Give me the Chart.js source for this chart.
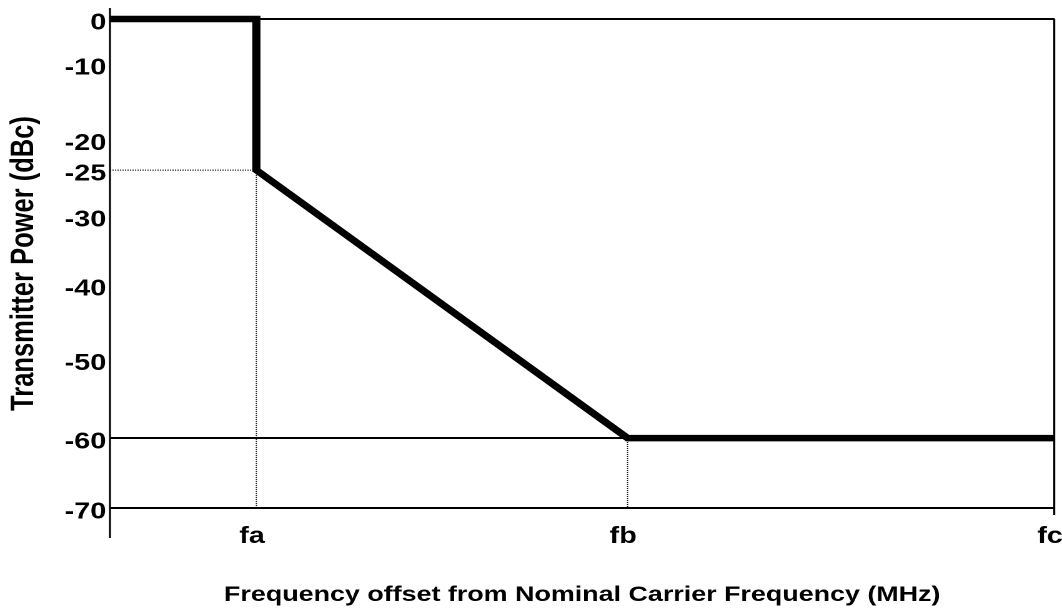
<!DOCTYPE html>
<html>
<head>
<meta charset="utf-8">
<script src="https://cdn.jsdelivr.net/npm/chart.js@4.4.1/dist/chart.umd.min.js"></script>
<style>
  html, body { margin: 0; padding: 0; background: #fff; }
  #mask { display: block; }
</style>
</head>
<body>
<!-- the original picture is stretched sideways, so the canvas is too -->
<canvas id="mask" width="850" height="610" style="width:1062px;height:610px"></canvas>
<script>
const freqLabels = ["fa", "fb", "fc"];
const freqPos = [1.55, 5.48, 10];
const maskFreq = [0, freqPos[0], freqPos[0], freqPos[1], freqPos[2]];
const maskDbc = [0, 0, -25, -60, -60];
const yTicks = [0, -10, -20, -25, -30, -40, -50, -60, -70];
const solidLevels = [0, -60, -70];

const floor = yTicks[yTicks.length - 1];

// y axis of the drawing is not evenly spaced, so map the ticks piecewise
class WarpScale extends Chart.LinearScale {
  _frac(value) {
    const v = this.options.levels, f = this.options.spacing;
    let i = 0;
    while (i < v.length - 2 && value < v[i + 1]) i++;
    return f[i] + (v[i] - value) / (v[i] - v[i + 1]) * (f[i + 1] - f[i]);
  }
  getPixelForValue(value) {
    return this.top + this._frac(value) * (this.bottom - this.top);
  }
  getValueForPixel(pixel) {
    const t = (pixel - this.top) / (this.bottom - this.top);
    const v = this.options.levels, f = this.options.spacing;
    let i = 0;
    while (i < f.length - 2 && t > f[i + 1]) i++;
    return v[i] - (t - f[i]) / (f[i + 1] - f[i]) * (v[i] - v[i + 1]);
  }
}
WarpScale.id = "warp";
Chart.register(WarpScale);

const font = (size) => ({ family: "'Liberation Sans', Arial, sans-serif", weight: "bold", size: size });

const toPoints = (xs, ys) => xs.map((x, i) => ({ x: x, y: ys[i] }));

// dotted guides drop from the two corners of the mask
const guideA = [
  { x: 0, y: maskDbc[2] },
  { x: maskFreq[2], y: maskDbc[2] },
  { x: maskFreq[2], y: floor },
];
const guideB = [
  { x: maskFreq[3], y: maskDbc[3] },
  { x: maskFreq[3], y: floor },
];

const axisLine = {
  id: "axisLine",
  afterDraw(chart) {
    const { ctx, chartArea } = chart;
    ctx.save();
    ctx.strokeStyle = "#000";
    ctx.lineWidth = 1.6;
    ctx.beginPath();
    ctx.moveTo(chartArea.left, chartArea.top - 11);
    ctx.lineTo(chartArea.left, chartArea.bottom + 30);
    ctx.stroke();
    ctx.restore();
  },
};

Chart.defaults.color = "#000";

new Chart(document.getElementById("mask"), {
  type: "line",
  data: {
    datasets: [
      {
        label: "Mask",
        data: toPoints(maskFreq, maskDbc),
        borderColor: "#000",
        borderWidth: 6.5,
        borderJoinStyle: "miter",
        borderCapStyle: "butt",
        pointRadius: 0,
        tension: 0,
        clip: false,
      },
      {
        label: "guide fa",
        data: guideA,
        borderColor: "#000",
        borderWidth: 1,
        borderDash: [1, 1],
        pointRadius: 0,
      },
      {
        label: "guide fb",
        data: guideB,
        borderColor: "#000",
        borderWidth: 1,
        borderDash: [1, 1],
        pointRadius: 0,
      },
    ],
  },
  options: {
    responsive: false,
    animation: false,
    devicePixelRatio: 2,
    layout: { padding: { top: 19, left: 0, right: 0, bottom: 0 } },
    plugins: {
      legend: { display: false },
      tooltip: { enabled: false },
    },
    scales: {
      x: {
        type: "linear",
        min: 0,
        max: freqPos[2],
        afterBuildTicks: (s) => { s.ticks = freqPos.map((v) => ({ value: v })); },
        afterFit: (s) => { s.height = 102; s.paddingLeft = 0; s.paddingRight = 6; },
        border: { display: false },
        grid: {
          color: (c) => (c.tick && c.tick.value === freqPos[2] ? "#000" : "rgba(0,0,0,0)"),
          lineWidth: 1.6,
          tickLength: 7,
        },
        ticks: {
          callback: (v, i) => freqLabels[i],
          font: font(23),
          padding: 8,
          labelOffset: -3.5,
          maxRotation: 0,
          autoSkip: false,
        },
        title: {
          display: true,
          text: "Frequency offset from Nominal Carrier Frequency (MHz)",
          font: font(21.5),
          padding: { top: 0, bottom: 2 },
        },
      },
      y: {
        type: "warp",
        min: floor,
        max: 0,
        levels: yTicks,
        spacing: [0, 0.092, 0.247, 0.309, 0.403, 0.544, 0.697, 0.857, 1],
        afterBuildTicks: (s) => { s.ticks = yTicks.map((v) => ({ value: v })); },
        afterFit: (s) => { s.width = 88; },
        border: { display: false },
        grid: {
          color: (c) => (c.tick && solidLevels.includes(c.tick.value) ? "#000" : "rgba(0,0,0,0)"),
          lineWidth: 2,
          drawTicks: false,
        },
        ticks: {
          callback: (v) => String(v),
          font: font(23),
          padding: 3,
          labelOffset: 4,
          autoSkip: false,
        },
        title: {
          display: true,
          text: "Transmitter Power (dBc)",
          font: font(25.5),
          padding: { top: 4, bottom: 0 },
        },
      },
    },
  },
  plugins: [axisLine],
});
</script>
</body>
</html>
